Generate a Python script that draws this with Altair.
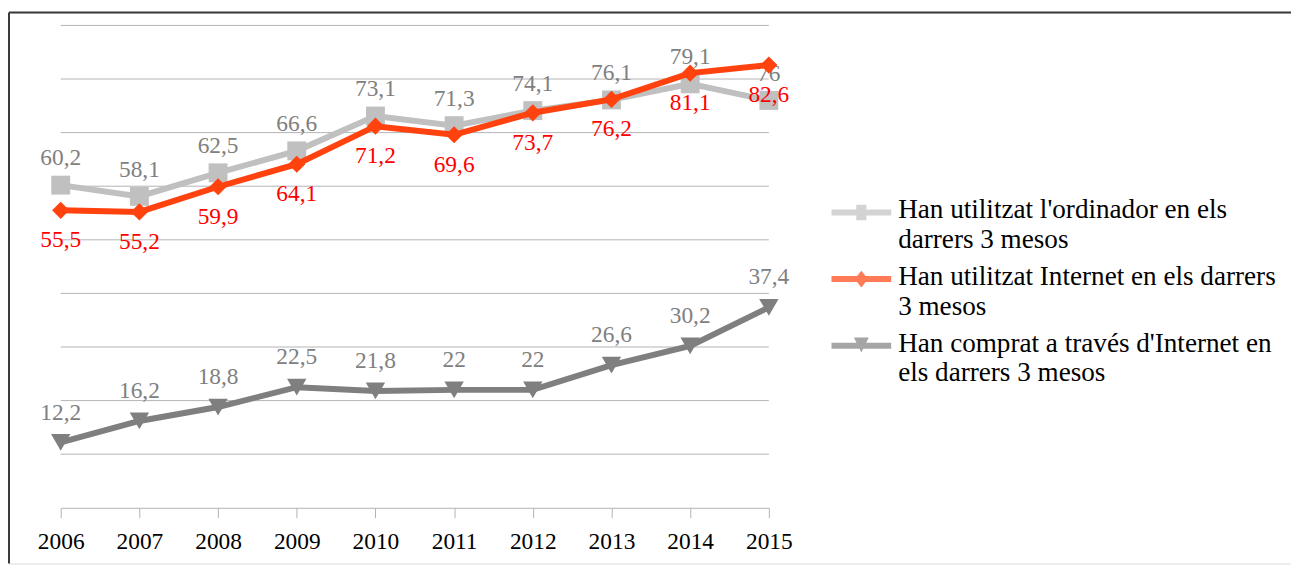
import json
import altair as alt
import pandas as pd

YEARS = [2006, 2007, 2008, 2009, 2010, 2011, 2012, 2013, 2014, 2015]
ORDINADOR = [60.2, 58.1, 62.5, 66.6, 73.1, 71.3, 74.1, 76.1, 79.1, 76]
INTERNET = [55.5, 55.2, 59.9, 64.1, 71.2, 69.6, 73.7, 76.2, 81.1, 82.6]
COMPRA = [12.2, 16.2, 18.8, 22.5, 21.8, 22, 22, 26.6, 30.2, 37.4]
SERIES = ["ordinador", "internet", "compra"]
SERIES_LABELS = [
    ["Han utilitzat l'ordinador en els", "darrers 3 mesos"],
    ["Han utilitzat Internet en els darrers", "3 mesos"],
    ["Han comprat a través d'Internet en", "els darrers 3 mesos"],
]
GRID_VALUES = [10, 20, 30, 40, 50, 60, 70, 80, 90]

LINE_COLORS = ["#c0c0c0", "#ff420e", "#7f7f7f"]
LABEL_COLORS = ["#808080", "#ff0000", "#808080"]
MARKERS = ["square", "diamond", "triangle-down"]
MARKER_SIZES = [361, 300, 380]
LABEL_DY = [-27, 30, -30]
FONT = "Liberation Serif"

# legend symbols: line with marker (custom paths, unit = 30px), lifted 6px
LEGEND_PATHS = [
    "M-1,-0.3H1V-0.1H-1Z M-0.17,-0.46H0.17V0.06H-0.17Z",
    "M-1,-0.3H1V-0.1H-1Z M0,-0.48L0.22,-0.2L0,0.08L-0.22,-0.2Z",
    "M-1,-0.3H1V-0.1H-1Z M-0.25,-0.47L0.25,-0.47L0,0.03Z",
]

rows = []
for s, vals in zip(SERIES, [ORDINADOR, INTERNET, COMPRA]):
    for y, v in zip(YEARS, vals):
        rows.append({"year": y, "series": s, "value": v})
df = pd.DataFrame(rows)
grid_df = pd.DataFrame({"value": GRID_VALUES, "year": YEARS[0], "year_end": YEARS[-1]})

W, H = 1289, 554
x_scale = alt.Scale(domain=[2006, 2015], range=[52, 764])
y_scale = alt.Scale(domain=[0, 90], range=[498, 13])

x_axis = alt.Axis(values=YEARS, format="d", title=None, grid=False,
                  domainColor="#b3b3b3", tickColor="#b3b3b3", tickSize=10,
                  labelFontSize=23.5, labelColor="#000000", labelFont=FONT,
                  labelPadding=12, offset=498 - H, labelFlush=False, labelOverlap=False)
x_enc = alt.X("year:Q", scale=x_scale, axis=x_axis)
y_enc = alt.Y("value:Q", scale=y_scale, axis=None)

label_expr = " : ".join(
    f"datum.label == '{s}' ? {json.dumps(l, ensure_ascii=False)}" for s, l in zip(SERIES[:-1], SERIES_LABELS[:-1])
) + " : " + json.dumps(SERIES_LABELS[-1], ensure_ascii=False)

legend = alt.Legend(title=None, orient="none", legendX=827, legendY=177,
                    labelFont=FONT, labelFontSize=27.3, labelColor="#000000",
                    labelLimit=0, labelOffset=7, symbolSize=3600,
                    symbolStrokeWidth=0, rowPadding=1, padding=0,
                    labelBaseline="alphabetic", labelExpr=label_expr)

legend_layer = alt.Chart(df).mark_point(filled=True).encode(
    x=x_enc, y=y_enc,
    color=alt.Color("series:N", scale=alt.Scale(domain=SERIES, range=LINE_COLORS), legend=legend),
    shape=alt.Shape("series:N", scale=alt.Scale(domain=SERIES, range=LEGEND_PATHS), legend=legend),
).transform_filter("false")

frame_data = alt.Data(values=[{"k": 1}])
frame_top = alt.Chart(frame_data).mark_rule(color="#3a3a3a", strokeWidth=2).encode(
    x=alt.value(0), x2=alt.value(W), y=alt.value(0))
frame_left = alt.Chart(frame_data).mark_rule(color="#3a3a3a", strokeWidth=2).encode(
    x=alt.value(0), y=alt.value(0), y2=alt.value(H))

grid = alt.Chart(grid_df).mark_rule(color="#b3b3b3", strokeWidth=1).encode(
    x=x_enc, x2="year_end:Q", y=y_enc)

layers = [frame_top, frame_left, legend_layer, grid]
for s, lc, tc, mk, ms, dy in zip(SERIES, LINE_COLORS, LABEL_COLORS, MARKERS, MARKER_SIZES, LABEL_DY):
    base = alt.Chart(df).transform_filter(alt.datum.series == s)
    line = base.mark_line(color=lc, strokeWidth=6, strokeJoin="miter").encode(x=x_enc, y=y_enc)
    pts = base.mark_point(shape=mk, filled=True, size=ms, color=lc, opacity=1).encode(x=x_enc, y=y_enc)
    txt = base.transform_calculate(label="replace(toString(datum.value), '.', ',')").mark_text(
        font=FONT, fontSize=23.5, color=tc, dy=dy, baseline="middle", align="center"
    ).encode(x=x_enc, y=y_enc, text="label:N")
    layers += [line, pts, txt]

chart = alt.layer(*layers).properties(
    width=W, height=H,
    autosize=alt.AutoSizeParams(type="none"),
    padding={"left": 1, "top": 3, "right": 0, "bottom": 0},
).configure_view(stroke="transparent", fill="white").configure(
    style={"guide-label": {"lineHeight": 30}}
)

chart.save("out.html", embed_options={"renderer": "svg", "actions": False})
